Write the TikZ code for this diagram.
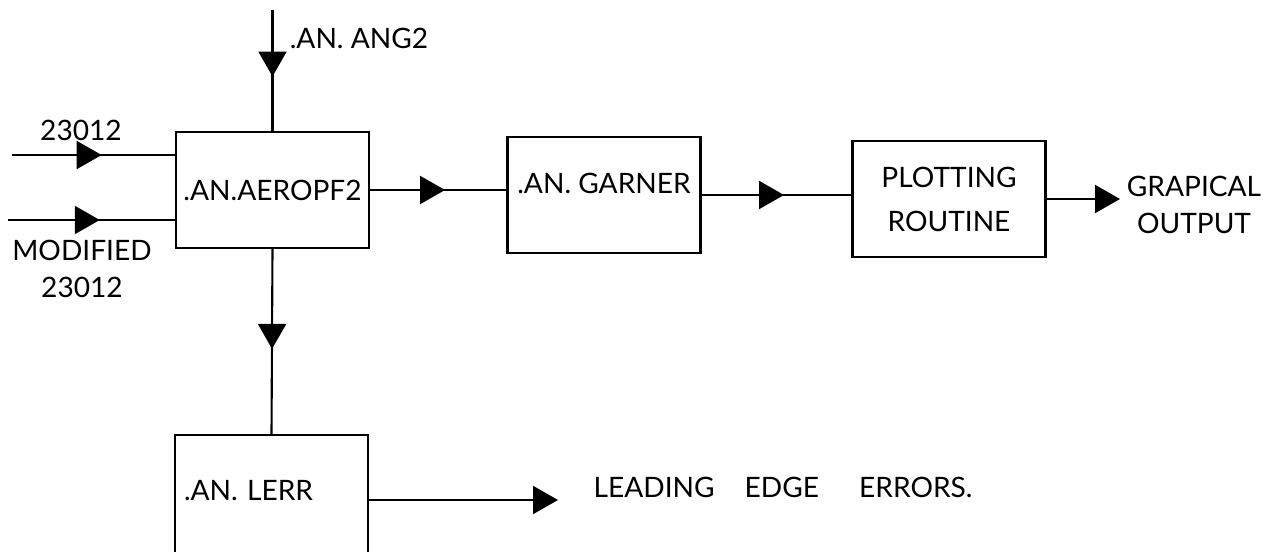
\documentclass[tikz,border=0pt]{standalone}
\usepackage{fontspec}
\setmainfont{Lato}
\usetikzlibrary{positioning}
\usetikzlibrary{arrows.meta,decorations.markings}

\begin{document}
\begin{tikzpicture}[
    box/.style={rectangle, draw, line width=1.2pt, minimum width=3.86cm, minimum height=2.32cm},
    flow/.style={line width=1.2pt, postaction={decorate},
        decoration={markings, mark=at position #1 with {\arrow{>}}}},
    flow/.default=0.55,
    exit/.style={line width=1.2pt, ->},
    >={Triangle[length=0.5cm,width=0.56cm]},
    every node/.style={font=\fontsize{16}{21}\selectfont}
]
    \useasboundingbox (0,0) rectangle (25.46,11.02);
    \clip (0,0) rectangle (25.46,11.02);

    % Routines
    \node[box] (aero) at (5.45,7.22) {.AN.AEROPF2};
    \node[box, text depth=0.48cm] (garner) at (12.08,7.12) {.AN. GARNER};
    \node[box, align=center] (plot) at (18.98,7.04) {PLOTTING\\[4pt]ROUTINE};
    \node[box, minimum height=2.6cm, text width=3.5cm, align=left, text depth=0.4cm] (lerr) at (5.43,1.02) {.AN. LERR};

    % Free ends
    \coordinate (angtop) at (5.45,10.82);
    \coordinate (in1) at (0.24,7.92);
    \coordinate (in2) at (0.16,6.62);
    \coordinate (gfx) at (22.4,7.04);
    \coordinate (lee) at (11.16,1.02);

    % Labels
    \node (angname) at (7.18,10.26) {.AN. ANG2};
    \node (name1) at (1.62,8.42) {23012};
    \node[align=center] (name2) at (1.64,5.65) {MODIFIED\\23012};
    \node[align=center] (gfxname) at (23.88,6.93) {GRAPICAL\\OUTPUT};
    \node (leename) at (15.66,1.28) {LEADING\hspace{0.6cm}EDGE\hspace{0.8cm}ERRORS.};

    % Connections
    \draw[flow] (angtop) -- (aero.north);
    \draw[flow] (in1) -- (in1 -| aero.west);
    \draw[flow] (in2) -- (in2 -| aero.west);
    \draw[flow] (aero.east) -- (aero.east -| garner.west);
    \draw[flow] (garner.east) -- (garner.east -| plot.west);
    \draw[exit] (plot.east) -- (gfx);
    \draw[flow=0.54] (aero.south) -- (lerr.north);
    \draw[exit] (lerr.east) -- (lee);
\end{tikzpicture}
\end{document}
